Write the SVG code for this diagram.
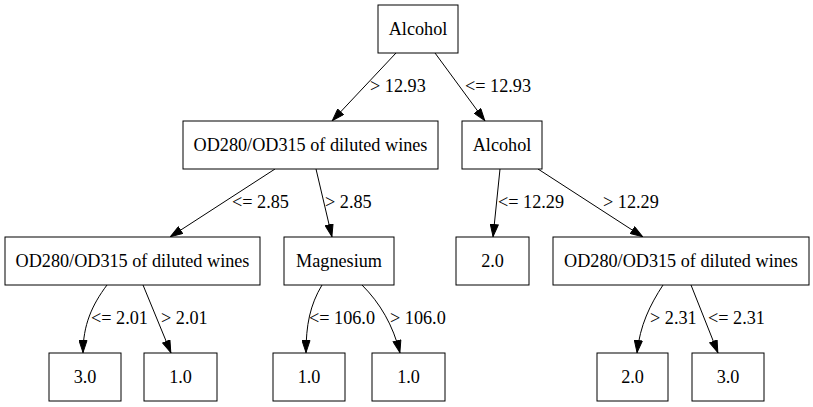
<svg xmlns="http://www.w3.org/2000/svg" width="813" height="407" viewBox="0 0 813 407">
<style>
.n rect{fill:#fff;stroke:#000;stroke-width:1}
text{font-family:"Liberation Serif","Times New Roman",serif;font-size:18.2px;fill:#000}
.n text{text-anchor:middle}
.e path{fill:none;stroke:#000;stroke-width:1;marker-end:url(#arr)}
</style>
<defs>
<marker id="arr" viewBox="0 0 13 9" refX="13" refY="4.5" markerWidth="13" markerHeight="9" markerUnits="userSpaceOnUse" orient="auto">
<path d="M0.5,0.5 L12.5,4.5 L0.5,8.5 z" fill="#000" stroke="#000"/>
</marker>
</defs>
<rect width="813" height="407" fill="#fff"/>
<g id="edges" class="e">
<path d="M396,53 L332,121"/>
<text x="370" y="92">&gt; 12.93</text>
<path d="M435,53 L485,121"/>
<text x="465" y="92">&lt;= 12.93</text>
<path d="M275,169 L170,237"/>
<text x="232" y="208">&lt;= 2.85</text>
<path d="M316,169 L332,237"/>
<text x="325" y="208">&gt; 2.85</text>
<path d="M500,169 L493,237"/>
<text x="498" y="208">&lt;= 12.29</text>
<path d="M538,169 L643,237"/>
<text x="603" y="208">&gt; 12.29</text>
<path d="M107,285 C92,305 83,325 83,353"/>
<text x="91" y="324">&lt;= 2.01</text>
<path d="M143,285 L171,353"/>
<text x="161" y="324">&gt; 2.01</text>
<path d="M322,285 C310,305 306,325 306,353"/>
<text x="309" y="324">&lt;= 106.0</text>
<path d="M362,285 C380,303 393,325 400,353"/>
<text x="390" y="324">&gt; 106.0</text>
<path d="M663,285 C650,305 640,325 637,353"/>
<text x="650" y="324">&gt; 2.31</text>
<path d="M691,285 L718,353"/>
<text x="708" y="324">&lt;= 2.31</text>
</g>
<g id="n0" class="n"><rect x="378" y="5" width="80" height="48"/><text x="418" y="34.5">Alcohol</text></g>
<g id="n1" class="n"><rect x="183" y="121" width="255" height="48"/><text x="310.5" y="150.5">OD280/OD315 of diluted wines</text></g>
<g id="n2" class="n"><rect x="462" y="121" width="80" height="48"/><text x="502" y="150.5">Alcohol</text></g>
<g id="n3" class="n"><rect x="5" y="237" width="255" height="48"/><text x="132.5" y="266.5">OD280/OD315 of diluted wines</text></g>
<g id="n4" class="n"><rect x="284" y="237" width="110" height="48"/><text x="339" y="266.5">Magnesium</text></g>
<g id="n5" class="n"><rect x="456" y="237" width="73" height="48"/><text x="492.5" y="266.5">2.0</text></g>
<g id="n6" class="n"><rect x="553" y="237" width="256" height="48"/><text x="681" y="266.5">OD280/OD315 of diluted wines</text></g>
<g id="n7" class="n"><rect x="49" y="353" width="72" height="48"/><text x="85" y="382.5">3.0</text></g>
<g id="n8" class="n"><rect x="144" y="353" width="73" height="48"/><text x="180.5" y="382.5">1.0</text></g>
<g id="n9" class="n"><rect x="273" y="353" width="72" height="48"/><text x="309" y="382.5">1.0</text></g>
<g id="n10" class="n"><rect x="372" y="353" width="73" height="48"/><text x="408.5" y="382.5">1.0</text></g>
<g id="n11" class="n"><rect x="597" y="353" width="71" height="48"/><text x="632.5" y="382.5">2.0</text></g>
<g id="n12" class="n"><rect x="692" y="353" width="72" height="48"/><text x="728" y="382.5">3.0</text></g>
</svg>
